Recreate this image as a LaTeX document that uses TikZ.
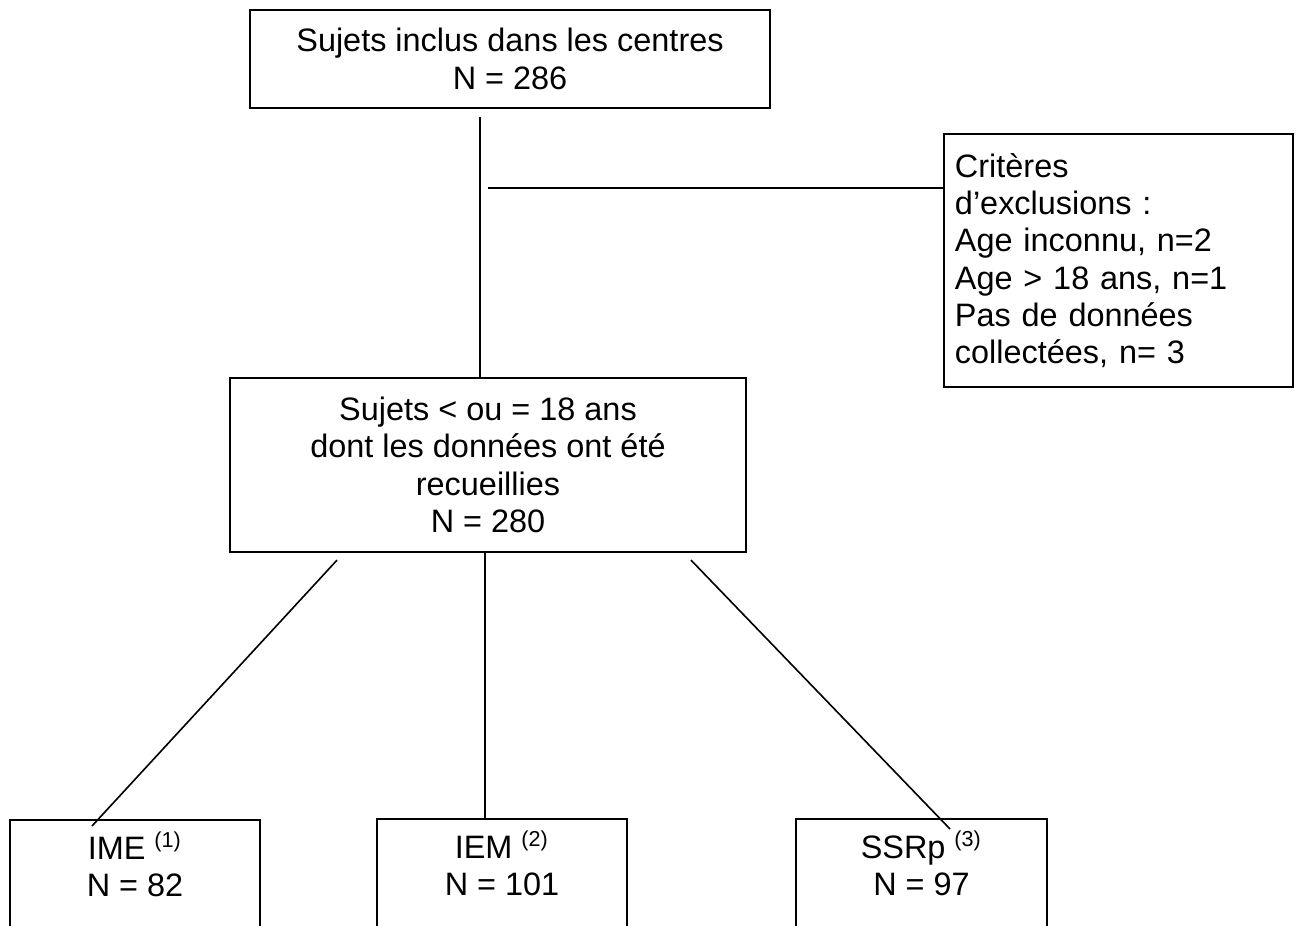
\documentclass[tikz,border=0pt]{standalone}
\usepackage{fontspec}
\setmainfont{Liberation Sans}

\begin{document}
\begin{tikzpicture}[x=0.37pt, y=-0.37pt,
    every node/.style={font=\fontsize{12}{13.8}\selectfont},
    box/.style={draw, line width=0.8pt, align=center, inner sep=0pt},
    lowbox/.style={box, anchor=north, minimum width=92.5pt, inner ysep=4.5pt, text depth=45pt},
    link/.style={line width=0.6pt}]

    \useasboundingbox (0,0) rectangle (1297,925);

    \node[box, minimum width=192.4pt, minimum height=36.3pt] (top) at (510,59) {Sujets inclus dans les centres\\N = 286};
    \node[box, minimum width=190.9pt, minimum height=64.4pt] (mid) at (488,465) {Sujets < ou = 18 ans\\dont les données ont été\\recueillies\\N = 280};
    \node[box, minimum width=129.1pt, minimum height=93.6pt, text width=121pt, align=left] (excl) at (1118.5,260.5) {Critères\\d’exclusions :\\Age inconnu, n=2\\Age > 18 ans, n=1\\Pas de données\\collectées, n= 3};

    \node[lowbox] (ime) at (135,819) {IME \textsuperscript{(1)}\\N = 82};
    \node[lowbox] (iem) at (502,818) {IEM \textsuperscript{(2)}\\N = 101};
    \node[lowbox, minimum width=92.9pt] (ssrp) at (921.5,818) {SSRp \textsuperscript{(3)}\\N = 97};

    \draw[link] ([shift={(-30,8)}]top.south) -- ([shift={(-8,0)}]mid.north);
    \draw[link] ([shift={(-455,-72.5)}]excl.west) -- ([shift={(0,-72.5)}]excl.west);

    \draw[link] ([shift={(-151,7)}]mid.south) -- ([shift={(-43,7)}]ime.north);
    \draw[link] ([shift={(-3,0)}]mid.south) -- ([shift={(-17,0)}]iem.north);
    \draw[link] ([shift={(203,7)}]mid.south) -- ([shift={(28.5,11)}]ssrp.north);

\end{tikzpicture}
\end{document}
